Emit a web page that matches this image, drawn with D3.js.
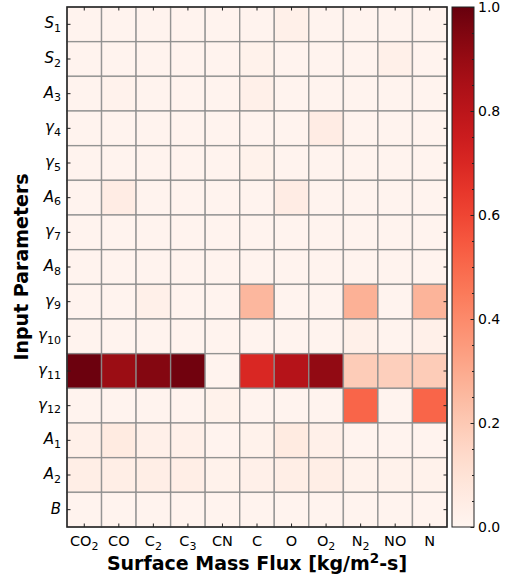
<!DOCTYPE html>
<html>
<head>
<meta charset="utf-8">
<script src="https://cdn.jsdelivr.net/npm/d3@7"></script>
<style>
  body { margin: 0; background: #fff; }
  text { font-family: "DejaVu Sans", sans-serif; fill: #000; }
</style>
</head>
<body>
<div id="chart"></div>
<script>
// species (columns) : [name, subscript]
var species = [["CO", "2"], ["CO", ""], ["C", "2"], ["C", "3"], ["CN", ""], ["C", ""],
               ["O", ""], ["O", "2"], ["N", "2"], ["NO", ""], ["N", ""]];

// parameters (rows) : [symbol, subscript]
var params = [["S", "1"], ["S", "2"], ["A", "3"], ["\u03b3", "4"], ["\u03b3", "5"], ["A", "6"],
              ["\u03b3", "7"], ["A", "8"], ["\u03b3", "9"], ["\u03b3", "10"], ["\u03b3", "11"],
              ["\u03b3", "12"], ["A", "1"], ["A", "2"], ["B", ""]];

// sensitivity values, one row per parameter, one column per species
var sens = [
  [0.01, 0.01, 0.01, 0.01, 0.01, 0.01, 0.03, 0.01, 0.01, 0.01, 0.01],
  [0.01, 0.01, 0.01, 0.01, 0.01, 0.02, 0.01, 0.01, 0.01, 0.03, 0.01],
  [0.01, 0.015, 0.01, 0.01, 0.01, 0.03, 0.01, 0.01, 0.01, 0.01, 0.01],
  [0.01, 0.01, 0.01, 0.01, 0.01, 0.01, 0.01, 0.05, 0.01, 0.01, 0.01],
  [0.01, 0.01, 0.01, 0.01, 0.01, 0.02, 0.01, 0.01, 0.01, 0.01, 0.01],
  [0.01, 0.05, 0.01, 0.01, 0.01, 0.01, 0.05, 0.01, 0.01, 0.01, 0.01],
  [0.01, 0.01, 0.01, 0.01, 0.01, 0.01, 0.01, 0.01, 0.01, 0.01, 0.01],
  [0.01, 0.01, 0.01, 0.01, 0.01, 0.01, 0.01, 0.01, 0.01, 0.01, 0.01],
  [0.01, 0.01, 0.03, 0.01, 0.01, 0.26, 0.01, 0.01, 0.28, 0.01, 0.27],
  [0.01, 0.01, 0.01, 0.01, 0.01, 0.01, 0.01, 0.01, 0.03, 0.01, 0.03],
  [0.99, 0.89, 0.94, 0.98, 0.01, 0.70, 0.82, 0.91, 0.19, 0.18, 0.19],
  [0.01, 0.01, 0.01, 0.01, 0.02, 0.01, 0.01, 0.01, 0.51, 0.01, 0.51],
  [0.03, 0.06, 0.03, 0.03, 0.01, 0.02, 0.06, 0.03, 0.01, 0.01, 0.01],
  [0.04, 0.04, 0.04, 0.04, 0.02, 0.03, 0.04, 0.04, 0.02, 0.02, 0.02],
  [0.01, 0.01, 0.01, 0.01, 0.01, 0.01, 0.01, 0.01, 0.01, 0.01, 0.01]
];

var cbTicks = [0, 0.2, 0.4, 0.6, 0.8, 1.0];

var margin = {top: 7, right: 63, bottom: 54, left: 67},
    width = 447 - margin.left,
    height = 527 - margin.top;

var svg = d3.select("#chart").append("svg")
    .attr("width", 510)
    .attr("height", 581);

var g = svg.append("g")
    .attr("transform", "translate(" + margin.left + "," + margin.top + ")");

var x = d3.scaleBand().domain(d3.range(species.length)).range([0, width]);
var y = d3.scaleBand().domain(d3.range(params.length)).range([0, height]);
var color = d3.scaleSequential(d3.interpolateReds).domain([0, 1]);

// cells
var cells = [];
sens.forEach(function (row, i) {
    row.forEach(function (v, j) {
        cells.push({r: i, c: j, v: v});
    });
});

g.selectAll(".cell")
    .data(cells)
    .enter().append("rect")
    .attr("class", "cell")
    .attr("x", function (d) { return x(d.c); })
    .attr("y", function (d) { return y(d.r); })
    .attr("width", x.bandwidth())
    .attr("height", y.bandwidth())
    .attr("fill", function (d) { return color(d.v); })
    .attr("stroke", "#8c8c8c")
    .attr("stroke-opacity", 0.85)
    .attr("stroke-width", 1.4);

// axes with inward ticks
function tickLines(axisG) {
    axisG.select(".domain").remove();
    axisG.selectAll("line").attr("stroke", "#222").attr("stroke-width", 1);
    axisG.selectAll("text").remove();
}

g.append("g").attr("transform", "translate(0," + height + ")")
    .call(d3.axisBottom(x).tickSizeInner(-3.5).tickSizeOuter(0)).call(tickLines);
g.append("g")
    .call(d3.axisTop(x).tickSizeInner(-3.5).tickSizeOuter(0)).call(tickLines);
g.append("g")
    .call(d3.axisLeft(y).tickSizeInner(-3.5).tickSizeOuter(0)).call(tickLines);
g.append("g").attr("transform", "translate(" + width + ",0)")
    .call(d3.axisRight(y).tickSizeInner(-3.5).tickSizeOuter(0)).call(tickLines);

// frame
g.append("rect")
    .attr("width", width).attr("height", height)
    .attr("fill", "none").attr("stroke", "#222").attr("stroke-width", 1.5);

// x tick labels
var xl = g.selectAll(".xlab")
    .data(species)
    .enter().append("text")
    .attr("class", "xlab")
    .attr("x", function (d, i) { return x(i) + x.bandwidth() / 2; })
    .attr("y", height + 19)
    .attr("text-anchor", "middle")
    .style("font-size", "14.5px");
xl.append("tspan").text(function (d) { return d[0]; });
xl.append("tspan")
    .attr("dy", 3.5)
    .style("font-size", "11px")
    .text(function (d) { return d[1]; });

// y tick labels
var yl = g.selectAll(".ylab")
    .data(params)
    .enter().append("text")
    .attr("class", "ylab")
    .attr("x", -6)
    .attr("y", function (d, i) { return y(i) + y.bandwidth() / 2 + 4; })
    .attr("text-anchor", "end")
    .style("font-size", "15px");
yl.append("tspan").style("font-style", "italic").text(function (d) { return d[0]; });
yl.append("tspan")
    .attr("dy", 3.5)
    .style("font-size", "11px")
    .text(function (d) { return d[1]; });

// axis titles
var xt = svg.append("text")
    .attr("x", margin.left + width / 2)
    .attr("y", 570)
    .attr("text-anchor", "middle")
    .style("font-weight", "bold")
    .style("font-size", "19px");
xt.append("tspan").text("Surface Mass Flux [kg/m");
xt.append("tspan").attr("dy", -7).style("font-size", "13.5px").text("2");
xt.append("tspan").attr("dy", 7).text("-s]");

svg.append("text")
    .attr("transform", "translate(28," + (margin.top + height / 2) + ") rotate(-90)")
    .attr("text-anchor", "middle")
    .style("font-weight", "bold")
    .style("font-size", "19px")
    .text("Input Parameters");

// colorbar
var cbX = 452, cbW = 22;
var cy = d3.scaleLinear().domain([0, 1]).range([margin.top + height, margin.top]);

var grad = svg.append("defs").append("linearGradient")
    .attr("id", "cbgrad")
    .attr("x1", 0).attr("y1", 1).attr("x2", 0).attr("y2", 0);
grad.selectAll("stop")
    .data(d3.range(0, 1.0001, 0.05))
    .enter().append("stop")
    .attr("offset", function (d) { return d; })
    .attr("stop-color", function (d) { return color(d); });

svg.append("rect")
    .attr("x", cbX).attr("y", margin.top)
    .attr("width", cbW).attr("height", height)
    .attr("fill", "url(#cbgrad)")
    .attr("stroke", "#222").attr("stroke-width", 1);

var cbAxis = svg.append("g")
    .attr("transform", "translate(" + (cbX + cbW) + ",0)")
    .call(d3.axisRight(cy).tickValues(cbTicks).tickSizeInner(-3.5).tickSizeOuter(0)
        .tickFormat(d3.format(".1f")));
cbAxis.select(".domain").remove();
cbAxis.selectAll("line").attr("stroke", "#222");
cbAxis.selectAll("text")
    .attr("x", 4)
    .style("font-family", "DejaVu Sans, sans-serif")
    .style("font-size", "14px")
    .attr("fill", "#000");

var cbMinor = svg.append("g")
    .attr("transform", "translate(" + (cbX + cbW) + ",0)")
    .call(d3.axisRight(cy).tickValues(d3.range(0.05, 1, 0.05)).tickSizeInner(-2).tickSizeOuter(0)
        .tickFormat(""));
cbMinor.select(".domain").remove();
cbMinor.selectAll("line").attr("stroke", "#222");
</script>
</body>
</html>
